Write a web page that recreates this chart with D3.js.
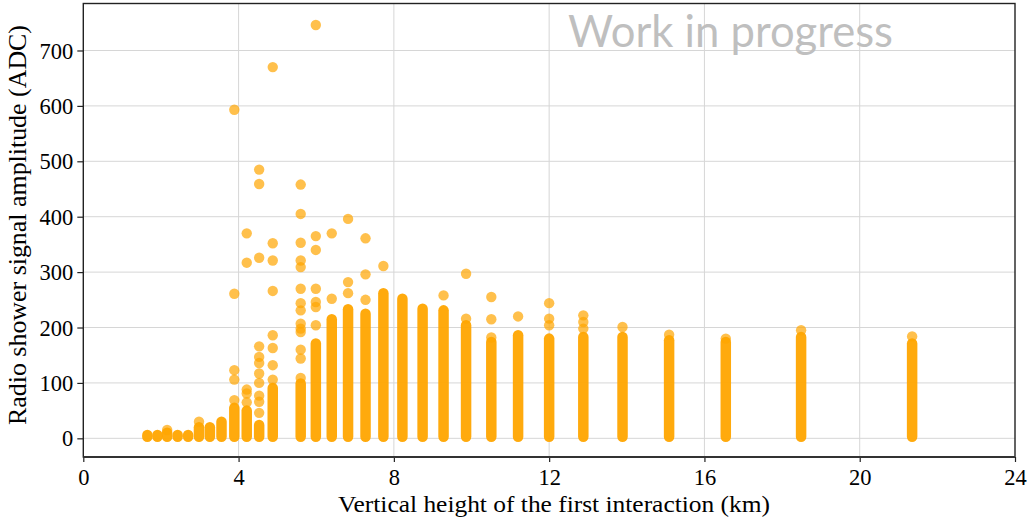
<!DOCTYPE html>
<html>
<head>
<meta charset="utf-8">
<script src="https://cdn.jsdelivr.net/npm/d3@7"></script>
<style>
  body { margin: 0; background: #fff; }
  svg { display: block; }
</style>
</head>
<body>
<script>
// first interaction heights (km) of each simulated column
var heights = [1.65, 1.91, 2.16, 2.43, 2.70, 2.98, 3.26, 3.56, 3.89, 4.21, 4.53, 4.88,
               5.60, 5.99, 6.40, 6.82, 7.27, 7.73, 8.22, 8.74, 9.28, 9.86, 10.51,
               11.20, 12.00, 12.88, 13.89, 15.09, 16.55, 18.49, 21.35];

// dense part of every column, from bandLow up to bandTop (ADC)
var bandLow = 3;
var bandTop = [6, 6, 10, 6, 6, 20, 20, 30, 55, 50, 24, 91,
               99, 171, 215, 233, 225, 262, 252, 234, 231, 204, 174,
               186, 180, 183, 183, 177, 174, 183, 171];

// separate points above the dense part
var outliers = [[], [], [15], [], [], [30], [], [], [593, 261, 123, 106, 69],
                [370, 317, 88, 81, 65],
                [485, 459, 326, 166, 147, 136, 117, 100, 77, 66, 46],
                [670, 352, 321, 266, 186, 163, 132, 106],
                [458, 405, 353, 321, 309, 270, 244, 231, 207, 198, 192, 160, 144, 109],
                [746, 365, 340, 270, 246, 237, 204],
                [370, 252], [396, 282, 262], [361, 296, 250], [311], [], [],
                [258], [297, 216], [255, 215, 182], [220], [244, 216, 204],
                [222, 210, 198], [201], [187], [180], [195], [184]];

var xTicks = [0, 4, 8, 12, 16, 20, 24];
var yTicks = [0, 100, 200, 300, 400, 500, 600, 700];

var plotL = 83.3, plotR = 1015, plotT = 3.5, plotB = 457;

var svg = d3.select("body").append("svg").attr("width", 1029).attr("height", 520);

var x = d3.scaleLinear().domain([0, 24]).range([plotL, plotR]);
var y = d3.scaleLinear().domain([-33.7, 784.8]).range([plotB, plotT]);

// grid
svg.append("g").selectAll("line")
      .data(xTicks.slice(1, -1))
      .enter().append("line")
      .attr("x1", function (d) { return x(d); })
      .attr("x2", function (d) { return x(d); })
      .attr("y1", plotT).attr("y2", plotB)
      .attr("stroke", "#d6d6d6").attr("stroke-width", 1);

svg.append("g").selectAll("line")
      .data(yTicks)
      .enter().append("line")
      .attr("y1", function (d) { return y(d); })
      .attr("y2", function (d) { return y(d); })
      .attr("x1", plotL).attr("x2", plotR)
      .attr("stroke", "#d6d6d6").attr("stroke-width", 1);

// dense parts
svg.append("g").selectAll("line")
      .data(heights)
      .enter().append("line")
      .attr("x1", function (d) { return x(d); })
      .attr("x2", function (d) { return x(d); })
      .attr("y1", y(bandLow))
      .attr("y2", function (d, i) { return y(bandTop[i]); })
      .attr("stroke", "#ffa500")
      .attr("stroke-opacity", 0.95)
      .attr("stroke-width", 10.5)
      .attr("stroke-linecap", "round");

var points = [];
heights.forEach(function (h, i) {
  outliers[i].forEach(function (v) { points.push({ h: h, v: v }); });
});

svg.append("g").selectAll("circle")
      .data(points)
      .enter().append("circle")
      .attr("cx", function (d) { return x(d.h); })
      .attr("cy", function (d) { return y(d.v); })
      .attr("r", 5.2)
      .attr("fill", "#ffa500")
      .attr("fill-opacity", 0.7);

// axes
var xAxis = svg.append("g")
      .attr("transform", "translate(0," + plotB + ")")
      .call(d3.axisBottom(x).tickValues(xTicks).tickSize(5).tickPadding(7));
var yAxis = svg.append("g")
      .attr("transform", "translate(" + plotL + ",0)")
      .call(d3.axisLeft(y).tickValues(yTicks).tickSize(6).tickPadding(4));

[xAxis, yAxis].forEach(function (g) {
  g.select(".domain").remove();
  g.selectAll(".tick line").attr("stroke", "#222").attr("stroke-width", 1.2);
  g.selectAll(".tick text")
      .attr("font-family", "Liberation Serif, serif")
      .attr("font-size", 22.5)
      .attr("fill", "#000");
});
yAxis.selectAll(".tick text").attr("dy", "0.34em");

// frame
svg.append("rect")
      .attr("x", plotL).attr("y", plotT)
      .attr("width", plotR - plotL).attr("height", plotB - plotT)
      .attr("fill", "none").attr("stroke", "#222").attr("stroke-width", 1.4);

svg.append("line")
      .attr("x1", plotL).attr("x2", plotR).attr("y1", plotB).attr("y2", plotB)
      .attr("stroke", "#333").attr("stroke-width", 2.2);

// labels
svg.append("text")
      .attr("x", 554).attr("y", 512)
      .attr("text-anchor", "middle")
      .attr("font-family", "Liberation Serif, serif").attr("font-size", 24)
      .attr("textLength", 432).attr("lengthAdjust", "spacingAndGlyphs")
      .text("Vertical height of the first interaction (km)");

svg.append("text")
      .attr("transform", "translate(26,225) rotate(-90)")
      .attr("text-anchor", "middle")
      .attr("font-family", "Liberation Serif, serif").attr("font-size", 25)
      .attr("textLength", 400).attr("lengthAdjust", "spacingAndGlyphs")
      .text("Radio shower signal amplitude (ADC)");

svg.append("text")
      .attr("x", 568).attr("y", 47)
      .attr("font-family", "Lato, sans-serif").attr("font-size", 44)
      .attr("fill", "#bfbfbf")
      .attr("textLength", 325).attr("lengthAdjust", "spacingAndGlyphs")
      .text("Work in progress");
</script>
</body>
</html>
